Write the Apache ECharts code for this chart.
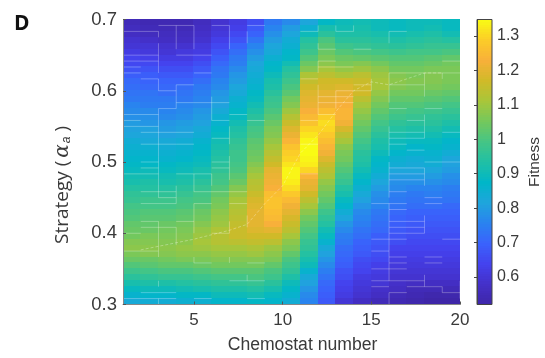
<!DOCTYPE html>
<html>
<head>
<meta charset="utf-8">
<style>html,body{margin:0;padding:0;background:#fff}#chart{width:545px;height:358px}</style>
<script src="https://cdn.jsdelivr.net/npm/echarts@6/dist/echarts.min.js"></script>
</head>
<body>
<div id="chart"></div>
<script>
// one list per chemostat cell column, read top (alpha 0.7) to bottom (alpha 0.3)
var fitnessByColumn = [
	[.55,.56,.57,.59,.60,.62,.64,.65,.67,.69,.71,.72, .73,.74,.76,.77,.78,.80,.81,.82,.84,.85,.86,.87, .88,.89,.91,.92,.94,.96,.97,.99,1.0,1.01,1.03,1.04, 1.05,1.07,1.08,1.06,1.04,1.01,.98,.95,.92,.89,.86,.83],
	[.54,.55,.56,.58,.60,.61,.63,.65,.67,.69,.70,.71, .73,.74,.75,.77,.78,.79,.81,.82,.83,.85,.86,.87, .88,.90,.91,.93,.94,.96,.98,.99,1.01,1.02,1.03,1.04, 1.06,1.07,1.08,1.07,1.04,1.02,.99,.96,.93,.90,.87,.84],
	[.54,.55,.56,.57,.59,.60,.62,.64,.66,.68,.70,.71, .72,.74,.75,.76,.77,.79,.80,.81,.83,.84,.85,.86, .88,.89,.91,.92,.94,.96,.98,.99,1.01,1.02,1.04,1.05, 1.06,1.07,1.08,1.07,1.05,1.03,1.0,.97,.93,.90,.87,.84],
	[.54,.55,.56,.57,.59,.61,.62,.64,.66,.68,.70,.72, .73,.74,.76,.77,.78,.80,.81,.82,.84,.85,.86,.87, .89,.90,.92,.93,.95,.97,.99,1.0,1.02,1.03,1.05,1.06, 1.07,1.08,1.09,1.08,1.06,1.03,1.0,.97,.94,.91,.88,.85],
	[.56,.57,.58,.59,.61,.62,.64,.66,.68,.70,.72,.74, .75,.76,.77,.79,.80,.81,.83,.84,.86,.87,.88,.89, .90,.92,.93,.95,.97,.99,1.0,1.02,1.04,1.05,1.07,1.09, 1.10,1.11,1.10,1.08,1.06,1.04,1.01,.98,.95,.92,.88,.85],
	[.59,.60,.61,.63,.65,.67,.69,.71,.73,.74,.76,.77, .79,.80,.81,.83,.85,.86,.88,.89,.91,.92,.93,.94, .95,.96,.98,.99,1.01,1.03,1.05,1.06,1.08,1.09,1.10,1.12, 1.13,1.13,1.11,1.09,1.07,1.05,1.02,.99,.96,.93,.90,.87],
	[.62,.63,.65,.67,.70,.72,.74,.75,.77,.79,.80,.82, .83,.85,.86,.88,.89,.91,.93,.94,.96,.97,.98,.98, .99,1.0,1.02,1.04,1.07,1.09,1.11,1.12,1.13,1.14,1.15,1.16, 1.16,1.14,1.11,1.09,1.07,1.05,1.02,.99,.96,.93,.90,.87],
	[.66,.68,.70,.73,.76,.78,.80,.82,.83,.84,.85,.86, .88,.89,.91,.93,.95,.97,.99,1.0,1.02,1.03,1.04,1.05, 1.07,1.09,1.11,1.13,1.14,1.16,1.18,1.19,1.20,1.20,1.20,1.19, 1.17,1.15,1.12,1.10,1.07,1.05,1.02,1.0,.97,.94,.91,.88],
	[.74,.76,.78,.80,.82,.83,.85,.87,.88,.90,.92,.93, .95,.97,.98,1.0,1.02,1.04,1.06,1.07,1.09,1.11,1.13,1.15, 1.17,1.20,1.21,1.22,1.23,1.26,1.27,1.27,1.26,1.25,1.23,1.20, 1.17,1.14,1.10,1.08,1.06,1.03,1.0,.98,.95,.92,.89,.87],
	[.77,.80,.82,.84,.85,.87,.88,.91,.94,.96,.98,1.0, 1.02,1.05,1.07,1.10,1.13,1.16,1.19,1.21,1.24,1.27,1.29,1.30, 1.32,1.34,1.34,1.33,1.31,1.28,1.25,1.22,1.20,1.18,1.16,1.14, 1.11,1.08,1.06,1.03,1.0,.98,.96,.93,.90,.88,.86,.84],
	[.82,.85,.90,.94,.96,.98,1.01,1.04,1.07,1.12,1.15,1.17, 1.19,1.20,1.21,1.23,1.25,1.27,1.30,1.32,1.34,1.35,1.35,1.34, 1.33,1.30,1.24,1.21,1.20,1.17,1.14,1.11,1.08,1.05,1.03,1.01, .99,.97,.96,.94,.92,.90,.86,.83,.81,.79,.77,.76],
	[.88,.92,.95,1.0,1.02,1.04,1.06,1.08,1.11,1.14,1.17,1.18, 1.2,1.21,1.22,1.26,1.29,1.31,1.30,1.28,1.26,1.24,1.22,1.19, 1.16,1.14,1.12,1.09,1.07,1.05,1.03,1.01,.98,.96,.94,.91, .89,.86,.83,.81,.79,.77,.75,.73,.71,.70,.69,.68],
	[.90,.91,.93,.95,.98,1.01,1.04,1.06,1.09,1.12,1.17,1.19, 1.21,1.22,1.23,1.24,1.24,1.22,1.18,1.14,1.11,1.08,1.06,1.05, 1.03,1.01,.99,.97,.94,.92,.89,.87,.84,.82,.79,.77, .75,.74,.72,.71,.70,.69,.67,.66,.64,.63,.62,.60],
	[.91,.92,.93,.95,.97,1.0,1.03,1.07,1.10,1.14,1.16,1.17, 1.17,1.14,1.11,1.09,1.07,1.05,1.03,1.01,.99,.97,.95,.94, .93,.91,.89,.87,.85,.83,.81,.79,.77,.76,.75,.73, .72,.70,.69,.68,.66,.65,.64,.62,.61,.60,.59,.57],
	[.90,.90,.92,.94,.96,.99,1.02,1.05,1.08,1.10,1.11,1.11, 1.09,1.07,1.05,1.03,1.01,.99,.97,.95,.93,.92,.90,.88, .87,.86,.84,.82,.80,.78,.77,.76,.74,.73,.72,.71, .69,.68,.67,.66,.65,.63,.62,.61,.60,.58,.57,.55],
	[.89,.89,.91,.93,.95,.98,1.01,1.03,1.05,1.07,1.08,1.07, 1.05,1.03,1.01,1.0,.98,.96,.94,.92,.90,.89,.87,.85, .84,.82,.80,.78,.77,.75,.74,.73,.71,.70,.69,.68, .67,.66,.64,.63,.62,.61,.60,.59,.58,.57,.55,.54],
	[.90,.90,.92,.94,.96,.99,1.01,1.03,1.05,1.06,1.07,1.06, 1.05,1.03,1.01,.99,.97,.95,.93,.91,.89,.87,.86,.84, .83,.82,.80,.78,.76,.74,.73,.72,.70,.69,.68,.67, .66,.65,.64,.63,.62,.61,.60,.59,.57,.55,.54,.53],
	[.90,.91,.93,.95,.97,.99,1.02,1.04,1.06,1.07,1.07,1.06, 1.04,1.02,1.0,.98,.96,.95,.93,.91,.89,.88,.86,.85, .84,.82,.80,.78,.76,.75,.73,.72,.70,.69,.68,.67, .66,.65,.64,.63,.62,.61,.60,.59,.57,.55,.53,.52],
	[.89,.89,.91,.94,.97,1.0,1.03,1.05,1.06,1.06,1.06,1.05, 1.03,1.01,.99,.97,.95,.93,.91,.89,.87,.86,.84,.82, .81,.80,.78,.77,.75,.74,.73,.71,.70,.69,.68,.67, .66,.65,.64,.63,.62,.61,.60,.59,.57,.55,.53,.52]
];
// pale seams left between patches, as [chemostat, row, chemostat, row]
var seams = [
	[1,2,3,2],[3,1,5,1],[6,1,7,1],[8,1,9,1],[1,6,3,6],[4,6,6,6],[1,7,3,7],[1,8,2,8],[1,9,2,9],[2,10,3,10],[5,9,6,9],[4,11,5,11],[3,12,4,12],[4,14,5,14],[5,14,7,14],
	[1,16,3,16],[1,17,2,17],[1,18,3,18],[3,15,4,15],[6,17,7,17],[7,16,8,16],[8,17,9,17],[2,19,5,19],[6,20,7,20],[2,21,4,21],[4,21,5,21],
	[3,2,3,3],[4,1,4,5],[5,1,5,5],[7,1,7,5],[3,4,3,9],[3,10,3,12],[4,11,4,15],[3,15,3,23],[8,2,8,4],[7,18,7,21],[6,13,6,17],
	[2,24,3,24],[2,25,3,25],[1,26,3,26],[4,26,6,26],[6,25,7,25],[6,24,7,24],[2,29,4,29],[5,29,8,29],[3,30,4,30],[2,31,4,31],[5,31,6,31],[7,31,8,31],[2,34,3,34],[4,34,5,34],[2,35,4,35],[1,36,2,36],[6,36,7,36],[1,39,3,39],[5,41,6,41],[8,41,9,41],[7,44,9,44],[2,46,4,46],[1,47,4,47],[5,47,6,47],[8,47,9,47],
	[3,23,3,30],[4,28,4,31],[5,26,5,29],[7,23,7,27],[6,26,6,28],[5,31,5,36],[3,34,3,40],[4,35,4,38],[7,34,7,36],[8,33,8,35],[5,40,5,41],[7,40,7,41],[8,43,8,44],[3,44,3,45],[3,47,3,48],
	[11,2,12,2],[13,2,14,2],[16,2,17,2],[12,5,13,5],[14,5,15,5],[12,7,13,7],[19,7,20,7],[12,8,14,8],[11,10,12,10],[16,9,20,9],[16,11,18,11],[14,11,15,11],[13,12,15,12],[12,13,14,13],[12,14,14,14],[16,15,17,15],[18,15,19,15],[12,16,13,16],[11,17,12,17],[17,17,18,17],[16,19,18,19],[16,20,18,20],[19,19,20,19],[16,21,17,21],[17,22,18,22],[11,21,12,21],
	[12,1,12,2],[13,1,13,2],[14,1,14,2],[16,2,16,4],[12,4,12,5],[12,7,12,9],[16,9,16,14],[18,9,18,13],[19,9,19,10],[12,11,12,16],[13,12,13,15],[15,10,15,12],[16,18,16,23],[18,16,18,20],
	[11,26,12,26],[15,31,17,31],[18,30,19,30],[18,31,19,31],[16,25,18,25],[16,26,18,26],[16,27,18,27],[16,29,17,29],[18,24,20,24],[16,32,17,32],[16,34,18,34],[16,35,18,35],[16,36,18,36],[15,37,17,37],[19,37,20,37],[15,39,16,39],[16,40,17,40],[18,40,19,40],[16,41,17,41],[18,41,19,41],[15,42,17,42],[15,44,18,44],[15,45,16,45],[16,46,17,46],[19,46,20,46],[17,45,19,45],
	[16,24,16,30],[18,25,18,28],[16,31,16,44],[18,33,18,36],[16,46,16,48],[18,43,18,45],[19,45,19,46],[20,44,20,47],[12,30,12,31]
];
// faint dashed trace along the ridge
var traceChemostat = [2, 5, 7, 8, 9, 10, 11, 12, 13, 14, 15, 16, 18, 19];
var traceRow = [38.8, 37, 35.5, 34.5, 31, 28, 22.5, 19.5, 15.5, 12, 10.5, 11, 9, 9];
var chemostatTicks = [5, 10, 15, 20];
var fitnessTicks = [0.6, 0.7, 0.8, 0.9, 1, 1.1, 1.2, 1.3];
var fitnessColors = ['#3e26a8','#4430c8','#4442ee','#3a62fc','#2a82f0','#1fa5dc','#00b6c8','#20c0a5','#45c585','#74c85c','#a8c63a','#d0ba28','#f8b03a','#fbcc28','#f9fb14'];
var alphaTop = 0.7, alphaBottom = 0.3;
var fitnessMin = 0.52, fitnessMax = 1.348;

var rowCount = fitnessByColumn[0].length;
var alphaStep = (alphaTop - alphaBottom) / rowCount;
function rowToAlpha(r) { return alphaTop - r * alphaStep; }

var cells = [];
for (let col = 0; col < fitnessByColumn.length; col++) {
	for (let row = 0; row < rowCount; row++) {
		cells.push([col + 1, rowToAlpha(row), fitnessByColumn[col][row]]);
	}
}
var barStep = (fitnessMax - fitnessMin) / 120;
var barCells = [];
for (let i = 0; i < 120; i++) {
	barCells.push([0, fitnessMin + i * barStep, fitnessMin + (i + 0.5) * barStep]);
}
var seamData = seams.map(function (s) { return [s[0], rowToAlpha(s[1]), s[2], rowToAlpha(s[3])]; });
var traceData = traceChemostat.map(function (c, i) { return [c, rowToAlpha(traceRow[i])]; });

function cellItem(width, height) {
	return function (params, api) {
		var p0 = api.coord([api.value(0), api.value(1)]);
		var p1 = api.coord([api.value(0) + width, api.value(1) + height]);
		var top = Math.floor(Math.min(p0[1], p1[1]));
		var bottom = Math.ceil(Math.max(p0[1], p1[1]));
		return {
			type: 'rect',
			shape: {x: Math.floor(p0[0]), y: top, width: Math.ceil(p1[0]) - Math.floor(p0[0]), height: bottom - top},
			style: {fill: api.visual('color')}
		};
	};
}

var textColor = '#3a3a3a';
var chart = echarts.init(document.getElementById('chart'));
var option = {
	animation: false,
	title: {
		text: 'D', left: 9, top: 9,
		textStyle: {fontFamily: 'Open Sans', fontWeight: 'bold', fontSize: 21, color: '#111'}
	},
	grid: [
		{left: 123, top: 19.5, width: 337, height: 285, outerBoundsMode: 'none'},
		{left: 477, top: 19.5, width: 15, height: 285, outerBoundsMode: 'none', show: true, z: 5, backgroundColor: 'transparent', borderColor: '#444', borderWidth: 1}
	],
	xAxis: [
		{
			type: 'value', gridIndex: 0, min: 1, max: 20, z: 6,
			name: 'Chemostat number', nameLocation: 'middle', nameGap: 32,
			nameTextStyle: {fontFamily: 'Liberation Sans', fontSize: 17.6, color: textColor, padding: [0, 0, 0, 22]},
			splitLine: {show: false},
			axisLine: {lineStyle: {color: '#888'}},
			axisTick: {inside: true, length: 3, customValues: chemostatTicks, lineStyle: {color: '#555'}},
			axisLabel: {customValues: chemostatTicks, margin: 7, fontFamily: 'Liberation Sans', fontSize: 17, color: textColor}
		},
		{type: 'value', gridIndex: 1, min: 0, max: 1, show: false}
	],
	yAxis: [
		{
			type: 'value', gridIndex: 0, min: 0.3, max: 0.7, interval: 0.1, z: 6,
			name: '{t|Strategy (}{a|α}{s|a}{t| )}', nameLocation: 'middle', nameGap: 50, nameRotate: 90,
			nameTextStyle: {padding: [0, 46, 0, 0], rich: {
				t: {fontFamily: 'Open Sans', fontSize: 19, color: textColor},
				a: {fontFamily: 'DejaVu Serif', fontStyle: 'italic', fontSize: 20, color: textColor, padding: [0, 1, 0, 3]},
				s: {fontFamily: 'Liberation Sans', fontStyle: 'italic', fontSize: 12, color: textColor, padding: [8, 0, 0, 0]}
			}},
			splitLine: {show: false},
			axisLine: {lineStyle: {color: '#888'}},
			axisTick: {inside: true, length: 3, lineStyle: {color: '#555'}},
			axisLabel: {margin: 6, fontFamily: 'Liberation Sans', fontSize: 18.5, color: textColor, formatter: function (v) { return v.toFixed(1); }}
		},
		{
			type: 'value', gridIndex: 1, position: 'right', min: fitnessMin, max: fitnessMax, z: 6,
			name: 'Fitness', nameLocation: 'middle', nameGap: 35, nameRotate: 90,
			nameTextStyle: {fontFamily: 'Liberation Sans', fontSize: 15.5, color: textColor},
			splitLine: {show: false},
			axisLine: {show: true, lineStyle: {color: '#444'}},
			axisTick: {inside: true, length: 3, customValues: fitnessTicks, lineStyle: {color: '#444'}},
			axisLabel: {customValues: fitnessTicks, margin: 5, fontFamily: 'Liberation Sans', fontSize: 16, color: textColor}
		}
	],
	visualMap: {
		show: false, type: 'continuous', seriesIndex: [0, 1], dimension: 2,
		min: fitnessMin, max: fitnessMax,
		inRange: {color: fitnessColors}
	},
	series: [
		{
			type: 'custom', xAxisIndex: 0, yAxisIndex: 0, data: cells,
			encode: {x: 0, y: 1},
			renderItem: cellItem(1, -alphaStep)
		},
		{
			type: 'custom', xAxisIndex: 1, yAxisIndex: 1, data: barCells,
			encode: {x: 0, y: 1},
			renderItem: cellItem(1, barStep)
		},
		{
			type: 'custom', xAxisIndex: 0, yAxisIndex: 0, data: seamData, silent: true,
			encode: {x: [0, 2], y: [1, 3]},
			renderItem: function (params, api) {
				var p0 = api.coord([api.value(0), api.value(1)]);
				var p1 = api.coord([api.value(2), api.value(3)]);
				return {
					type: 'line',
					shape: {x1: p0[0], y1: p0[1], x2: p1[0], y2: p1[1]},
					style: {stroke: 'rgba(255,255,255,0.28)', lineWidth: 1}
				};
			}
		},
		{
			type: 'line', xAxisIndex: 0, yAxisIndex: 0, data: traceData, silent: true,
			showSymbol: false, smooth: false,
			lineStyle: {color: 'rgba(255,255,255,0.3)', width: 1, type: [3, 2]}
		}
	]
};
chart.setOption(option);
</script>
</body>
</html>
